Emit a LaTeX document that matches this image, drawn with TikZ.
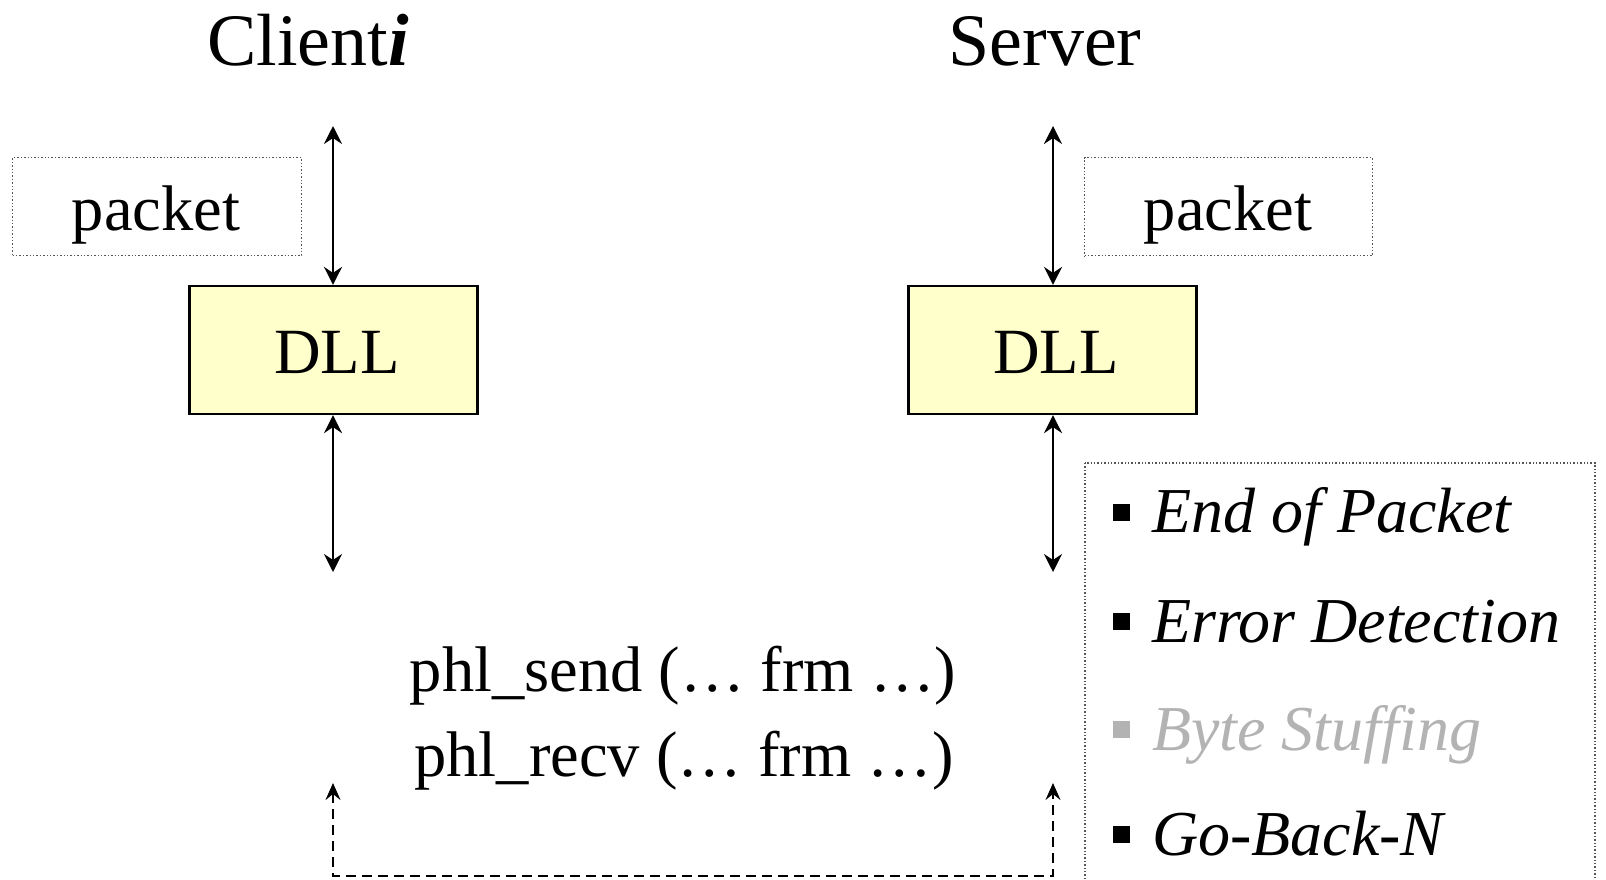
\documentclass[tikz,border=0pt]{standalone}
\usepackage{fontspec}
\setmainfont{Liberation Serif}
\usetikzlibrary{arrows.meta}
\definecolor{dllfill}{HTML}{FFFFCC}
\definecolor{fadegray}{HTML}{B3B3B3}
\definecolor{dotgray}{HTML}{555555}
\begin{document}
\begin{tikzpicture}[x=1pt,y=-1pt,
  dllbox/.style={draw=black,line width=2.2pt,fill=dllfill,minimum width=288pt,minimum height=128pt,inner sep=0pt},
  dotbox/.style={draw=dotgray,line width=1.4pt,dotted,inner sep=0pt},
  bigtxt/.style={font=\fontsize{64.5pt}{72pt}\selectfont,anchor=base,inner sep=0pt},
  titletxt/.style={font=\fontsize{74pt}{80pt}\selectfont,anchor=base,inner sep=0pt},
  itemtxt/.style={font=\fontsize{64pt}{72pt}\selectfont\itshape,anchor=base west,inner sep=0pt},
  dbl/.style={{Stealth[length=18pt,width=18pt,inset=6pt]}-{Stealth[length=18pt,width=18pt,inset=6pt]},line width=2.4pt},
  bullet/.style={fill=black,draw=none,minimum width=17pt,minimum height=17pt,inner sep=0pt}
]
\useasboundingbox (0,0) rectangle (1606,879);

% titles
\node[titletxt] (tclient) at (308,65) {Client\textbf{\textit{i}}};
\node[titletxt] (tserver) at (1045,65) {Server};

% packet boxes
\node[dotbox,minimum width=289pt,minimum height=98pt] (pk1) at (157,206.7) {};
\node[bigtxt] (pk1t) at (156,230) {packet};
\node[dotbox,minimum width=288pt,minimum height=98pt] (pk2) at (1228.5,206.7) {};
\node[bigtxt] (pk2t) at (1228,230) {packet};

% DLL boxes
\node[dllbox] (dll1) at (333.4,350) {};
\node[bigtxt] (dll1t) at (337,373) {DLL};
\node[dllbox] (dll2) at (1052.4,350) {};
\node[bigtxt] (dll2t) at (1056,373) {DLL};

% free ends
\coordinate (c1top) at (333,126);
\coordinate (c1bot) at (333,572);
\coordinate (s1top) at (1053,126);
\coordinate (s1bot) at (1053,572);
\coordinate (c1dash) at (333,783);
\coordinate (s1dash) at (1053,783);

\draw[dbl] (c1top) -- (dll1.north -| c1top);
\draw[dbl] (dll1.south -| c1bot) -- (c1bot);
\draw[dbl] (s1top) -- (dll2.north -| s1top);
\draw[dbl] (dll2.south -| s1bot) -- (s1bot);

% dashed loop
\draw[line width=2.2pt,dash pattern=on 10pt off 6pt,
  {Stealth[length=17pt,width=15pt,inset=6pt]}-{Stealth[length=17pt,width=15pt,inset=6pt]}]
  (c1dash) -- (333,876) -- (1053,876) -- (s1dash);

% phl calls
\node[bigtxt] (send) at (683,691) {phl\_send (… frm …)};
\node[bigtxt] (recv) at (684,776) {phl\_recv (… frm …)};

% list box
\draw[dotbox] (1085,463) rectangle (1595,900);
\node[bullet] (b1) at (1121,512) {};
\node[itemtxt] (i1) at (1152,532) {End of Packet};
\node[bullet] (b2) at (1121,621) {};
\node[itemtxt] (i2) at (1152,642) {Error Detection};
\node[bullet,fill=fadegray] (b3) at (1121,729) {};
\node[itemtxt,text=fadegray] (i3) at (1152,750) {Byte Stuffing};
\node[bullet] (b4) at (1121,834) {};
\node[itemtxt] (i4) at (1152,855) {Go-Back-N};
\end{tikzpicture}
\end{document}
